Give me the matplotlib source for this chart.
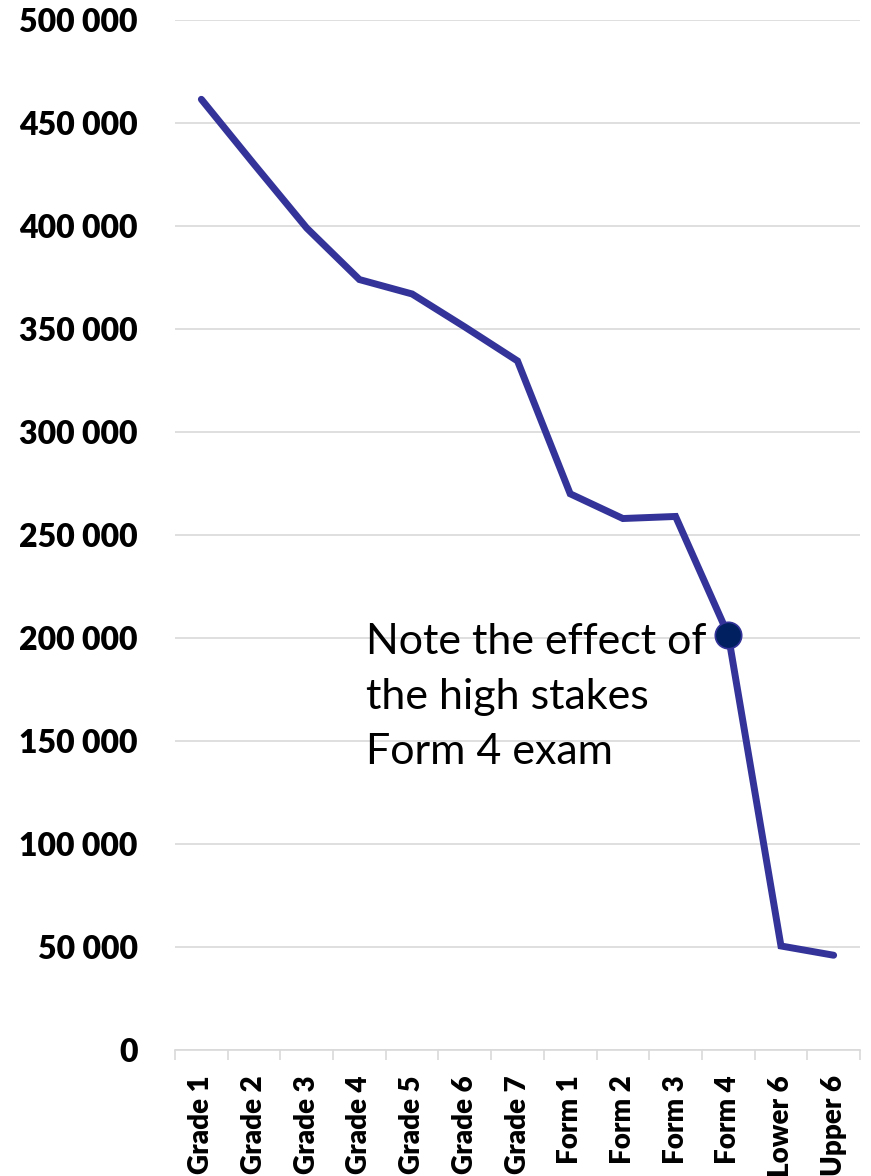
import matplotlib
matplotlib.use("Agg")
import matplotlib.pyplot as plt
from matplotlib.ticker import FuncFormatter, MultipleLocator, FixedLocator

levels = ["Grade 1", "Grade 2", "Grade 3", "Grade 4", "Grade 5", "Grade 6", "Grade 7",
          "Form 1", "Form 2", "Form 3", "Form 4", "Lower 6", "Upper 6"]
enrolment = [461500, 430000, 399000, 374000, 367000, 351000, 334500,
             270000, 258000, 259000, 201500, 50500, 46000]
highlight = "Form 4"
note = "Note the effect of\nthe high stakes\nForm 4 exam"

plt.rcParams["font.family"] = ["Lato", "DejaVu Sans"]

fig = plt.figure(figsize=(8.71, 11.76), dpi=100)
ax = fig.add_axes([175 / 871, 1 - 1050 / 1176, 685 / 871, 1030 / 1176])

x = list(range(len(levels)))
ax.plot(x, enrolment, color="#333399", lw=5, solid_capstyle="round",
        solid_joinstyle="miter", zorder=3)
hi = levels.index(highlight)
ax.plot([hi], [enrolment[hi]], marker="o", ms=19, mfc="#002060",
        mec="#333399", mew=1.2, zorder=4)

ax.set_xlim(-0.5, len(levels) - 0.5)
ax.set_ylim(0, 500000)
ax.yaxis.set_major_locator(MultipleLocator(50000))
ax.yaxis.set_major_formatter(FuncFormatter(lambda v, p: f"{int(v):,}".replace(",", " ")))
ax.grid(axis="y", color="#d9d9d9", lw=1.2, zorder=0)
ax.set_axisbelow(True)

ax.set_xticks(x)
ax.set_xticklabels(levels, rotation=90, fontweight="heavy", fontsize=20)
ax.xaxis.set_minor_locator(FixedLocator([i - 0.5 for i in range(len(levels) + 1)]))
ax.tick_params(axis="x", which="major", length=0, pad=18)
ax.tick_params(axis="x", which="minor", length=7, color="#d9d9d9", width=1.2)
ax.tick_params(axis="y", length=0, pad=27, labelsize=23)
for lab in ax.get_yticklabels():
    lab.set_fontweight("heavy")

for side in ("top", "right", "left"):
    ax.spines[side].set_visible(False)
ax.spines["bottom"].set_color("#d9d9d9")
ax.spines["bottom"].set_linewidth(1.2)

ax.text(3.13, 207500, note, fontsize=31, va="top", ha="left",
        linespacing=1.55, color="black", zorder=5)

fig.savefig("out.png", dpi=100)
